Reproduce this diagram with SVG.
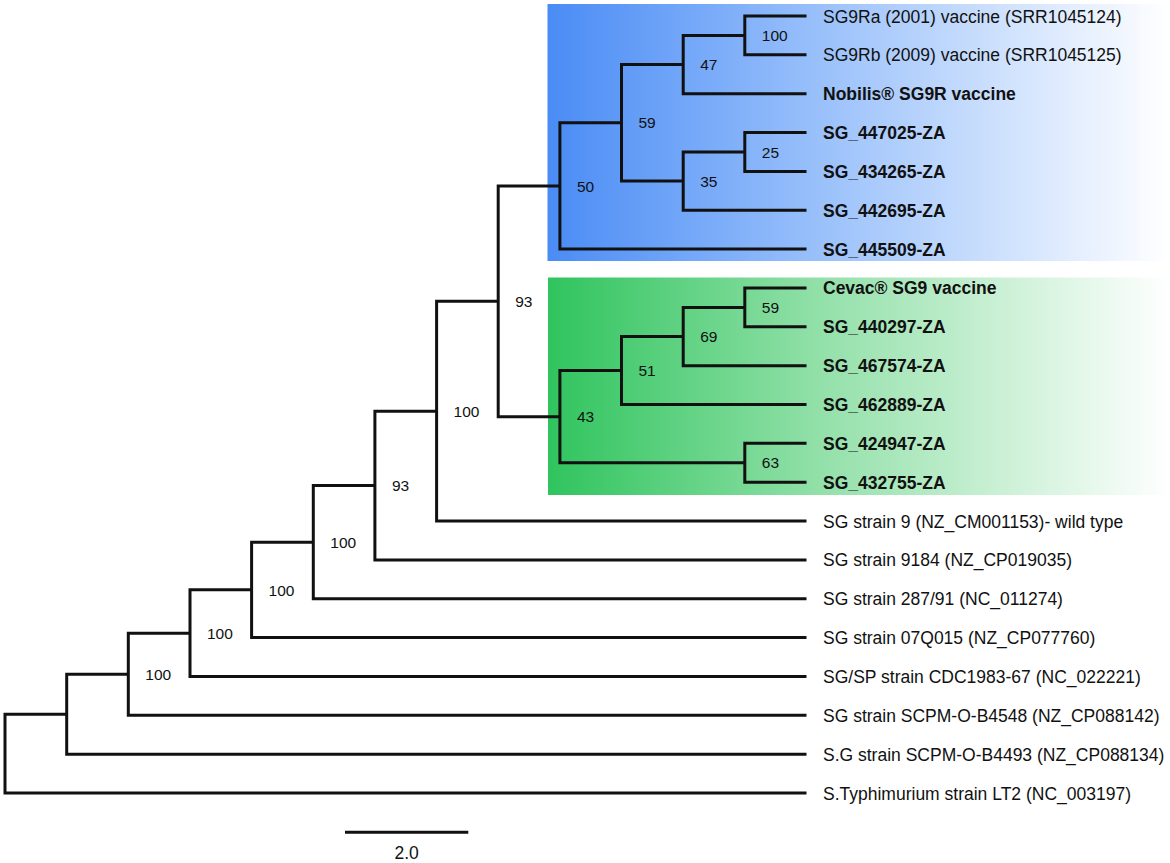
<svg xmlns="http://www.w3.org/2000/svg" width="1170" height="863" viewBox="0 0 1170 863">
<defs>
<linearGradient id="gBlue" x1="0" y1="0" x2="1" y2="0">
<stop offset="0" stop-color="#4a8cf5"/>
<stop offset="0.45" stop-color="#9cc2fb"/>
<stop offset="1" stop-color="#ffffff"/>
</linearGradient>
<linearGradient id="gGreen" x1="0" y1="0" x2="1" y2="0">
<stop offset="0" stop-color="#30c45e"/>
<stop offset="0.45" stop-color="#95e1ab"/>
<stop offset="1" stop-color="#ffffff"/>
</linearGradient>
<style>
.edge{fill:none;stroke:#111;stroke-width:3;stroke-linejoin:miter}
.leaf{font-family:"Liberation Sans",Arial,sans-serif;font-size:17.5px;fill:#111}
.b{font-weight:bold}
.sup{font-family:"Liberation Sans",Arial,sans-serif;font-size:15.5px;fill:#111}
</style>
</defs>
<rect id="clade-blue" x="547.5" y="4" width="622.5" height="257" fill="url(#gBlue)"/>
<rect id="clade-green" x="548" y="277.5" width="622" height="217.5" fill="url(#gGreen)"/>
<g id="connectors">
<path class="edge" d="M66.7,714.19 H5 V793 H806.5"/>
<path class="edge" d="M128.3,674.23 H66.7 V754.15 H806.5"/>
<path class="edge" d="M190,633.16 H128.3 V715.3 H806.5"/>
<path class="edge" d="M251.6,589.87 H190 V676.45 H806.5"/>
<path class="edge" d="M313.3,542.15 H251.6 V637.6 H806.5"/>
<path class="edge" d="M374.9,485.54 H313.3 V598.75 H806.5"/>
<path class="edge" d="M436.6,411.18 H374.9 V559.9 H806.5"/>
<path class="edge" d="M498.2,301.3 H436.6 V521.05 H806.5"/>
<path class="edge" d="M559.9,185.97 H498.2 V416.64 H559.9"/>
<path class="edge" d="M621.5,122.83 H559.9 V249.1 H806.5"/>
<path class="edge" d="M683.2,64.56 H621.5 V181.1 H683.2"/>
<path class="edge" d="M744.8,35.43 H683.2 V93.7 H806.5"/>
<path class="edge" d="M806.5,16 H744.8 V54.85 H806.5"/>
<path class="edge" d="M744.8,151.98 H683.2 V210.25 H806.5"/>
<path class="edge" d="M806.5,132.55 H744.8 V171.4 H806.5"/>
<path class="edge" d="M621.5,370.5 H559.9 V462.78 H744.8"/>
<path class="edge" d="M683.2,336.5 H621.5 V404.5 H806.5"/>
<path class="edge" d="M744.8,307.38 H683.2 V365.65 H806.5"/>
<path class="edge" d="M806.5,287.95 H744.8 V326.8 H806.5"/>
<path class="edge" d="M806.5,443.35 H744.8 V482.2 H806.5"/>
</g>
<g id="leaf-SG9Ra"><text class="leaf" x="823" y="22.5">SG9Ra (2001) vaccine (SRR1045124)</text></g>
<g id="leaf-SG9Rb"><text class="leaf" x="823" y="61.3">SG9Rb (2009) vaccine (SRR1045125)</text></g>
<g id="leaf-Nobilis"><text class="leaf b" x="823" y="100.2">Nobilis® SG9R vaccine</text></g>
<g id="leaf-447025"><text class="leaf b" x="823" y="139">SG_447025-ZA</text></g>
<g id="leaf-434265"><text class="leaf b" x="823" y="177.9">SG_434265-ZA</text></g>
<g id="leaf-442695"><text class="leaf b" x="823" y="216.7">SG_442695-ZA</text></g>
<g id="leaf-445509"><text class="leaf b" x="823" y="255.6">SG_445509-ZA</text></g>
<g id="leaf-Cevac"><text class="leaf b" x="823" y="294.4">Cevac® SG9 vaccine</text></g>
<g id="leaf-440297"><text class="leaf b" x="823" y="333.3">SG_440297-ZA</text></g>
<g id="leaf-467574"><text class="leaf b" x="823" y="372.1">SG_467574-ZA</text></g>
<g id="leaf-462889"><text class="leaf b" x="823" y="411">SG_462889-ZA</text></g>
<g id="leaf-424947"><text class="leaf b" x="823" y="449.8">SG_424947-ZA</text></g>
<g id="leaf-432755"><text class="leaf b" x="823" y="488.7">SG_432755-ZA</text></g>
<g id="leaf-SG9wt"><text class="leaf" x="823" y="527.5">SG strain 9 (NZ_CM001153)- wild type</text></g>
<g id="leaf-9184"><text class="leaf" x="823" y="566.4">SG strain 9184 (NZ_CP019035)</text></g>
<g id="leaf-28791"><text class="leaf" x="823" y="605.2">SG strain 287/91 (NC_011274)</text></g>
<g id="leaf-07Q015"><text class="leaf" x="823" y="644.1">SG strain 07Q015 (NZ_CP077760)</text></g>
<g id="leaf-CDC1983"><text class="leaf" x="823" y="682.9">SG/SP strain CDC1983-67 (NC_022221)</text></g>
<g id="leaf-B4548"><text class="leaf" x="823" y="721.8">SG strain SCPM-O-B4548 (NZ_CP088142)</text></g>
<g id="leaf-B4493"><text class="leaf" x="823" y="760.6">S.G strain SCPM-O-B4493 (NZ_CP088134)</text></g>
<g id="leaf-LT2"><text class="leaf" x="823" y="799.5">S.Typhimurium strain LT2 (NC_003197)</text></g>
<g id="node-B"><text class="sup" x="145.3" y="679.8">100</text></g>
<g id="node-C"><text class="sup" x="207" y="638.8">100</text></g>
<g id="node-D"><text class="sup" x="268.6" y="595.5">100</text></g>
<g id="node-E"><text class="sup" x="330.3" y="547.8">100</text></g>
<g id="node-F"><text class="sup" x="391.9" y="491.1">93</text></g>
<g id="node-G"><text class="sup" x="453.6" y="416.8">100</text></g>
<g id="node-H"><text class="sup" x="515.2" y="306.9">93</text></g>
<g id="node-blue"><text class="sup" x="576.9" y="191.6">50</text></g>
<g id="node-P"><text class="sup" x="638.5" y="128.4">59</text></g>
<g id="node-Q"><text class="sup" x="700.2" y="70.2">47</text></g>
<g id="node-S"><text class="sup" x="761.8" y="41">100</text></g>
<g id="node-R"><text class="sup" x="700.2" y="186.7">35</text></g>
<g id="node-T"><text class="sup" x="761.8" y="157.6">25</text></g>
<g id="node-green"><text class="sup" x="576.9" y="422.2">43</text></g>
<g id="node-U"><text class="sup" x="638.5" y="376.1">51</text></g>
<g id="node-W"><text class="sup" x="700.2" y="342.1">69</text></g>
<g id="node-X"><text class="sup" x="761.8" y="313">59</text></g>
<g id="node-V"><text class="sup" x="761.8" y="468.4">63</text></g>
<g id="scale-bar">
<path class="edge" d="M345,832.3 H468.3"/>
<text class="leaf" x="406.6" y="859" text-anchor="middle">2.0</text>
</g>
</svg>
